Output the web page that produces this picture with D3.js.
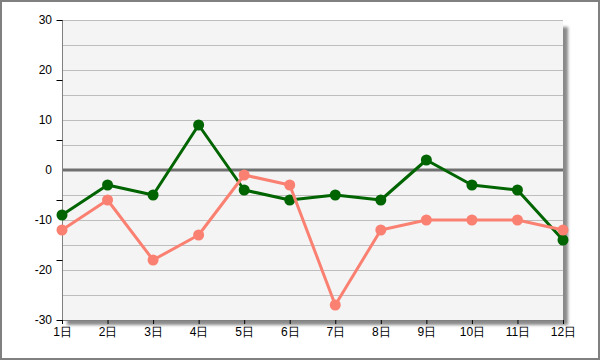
<!DOCTYPE html>
<html><head><meta charset="utf-8">
<script src="https://cdn.jsdelivr.net/npm/d3@7"></script>
<style>
html,body{margin:0;padding:0;background:#fff;}
svg{display:block;}
text{font-family:"Liberation Sans",Arial,sans-serif;font-size:12px;fill:#000;}
</style></head>
<body>
<script>
const categories = ["1日","2日","3日","4日","5日","6日","7日","8日","9日","10日","11日","12日"];
const seriesGreen = [-9,-3,-5,9,-4,-6,-5,-6,2,-3,-4,-14];
const seriesSalmon = [-12,-6,-18,-13,-1,-3,-27,-12,-10,-10,-10,-12];
const yLabels = [30,20,10,0,-10,-20,-30];
const yTickMarks = [30,18,6,-6,-18,-30];
const yGrid = [30,25,20,15,10,5,-5,-10,-15,-20,-25,-30];

const W=600,H=360;
const L=62,R=563,T=20,B=320;
const svg=d3.select("body").append("svg").attr("width",W).attr("height",H);
const defs=svg.append("defs");
const f=defs.append("filter").attr("id","sh").attr("x","-10%").attr("y","-10%").attr("width","120%").attr("height","120%");
f.append("feGaussianBlur").attr("stdDeviation",1.5);

svg.append("rect").attr("x",1).attr("y",1).attr("width",W-2).attr("height",H-2)
  .attr("fill","#fff").attr("stroke","#808080").attr("stroke-width",2);

const x=d3.scalePoint().domain(categories).range([L,R]);
const y=d3.scaleLinear().domain([-30,30]).range([B,T]);

// shadow
svg.append("rect").attr("x",L+5).attr("y",T+7).attr("width",R-L).attr("height",B-T-2)
  .attr("fill","#8a8a8a").attr("filter","url(#sh)");
svg.append("rect").attr("x",L).attr("y",T).attr("width",R-L).attr("height",B-T).attr("fill","#f4f4f4");

// grid
svg.append("g").selectAll("line").data(yGrid).join("line")
  .attr("x1",L).attr("x2",R).attr("y1",d=>y(d)).attr("y2",d=>y(d))
  .attr("stroke","#bdbdbd").attr("stroke-width",1).attr("shape-rendering","crispEdges");
svg.append("line").attr("x1",L).attr("x2",R).attr("y1",y(0)).attr("y2",y(0))
  .attr("stroke","#707070").attr("stroke-width",3);

// y axis
svg.append("line").attr("x1",L+0.5).attr("x2",L+0.5).attr("y1",T).attr("y2",B+4).attr("stroke","#808080");
const yAxis=d3.axisLeft(y).tickValues(yTickMarks).tickSize(6).tickFormat("");
const gy=svg.append("g").attr("transform",`translate(${L+0.5},0)`).call(yAxis);
gy.select(".domain").remove();
gy.selectAll(".tick line").attr("stroke","#000");
svg.append("g").selectAll("text").data(yLabels).join("text")
  .attr("x",52).attr("y",d=>y(d)).attr("dy","0.35em").attr("text-anchor","end").text(d=>d);

// x axis
const xAxis=d3.axisBottom(x).tickSize(4).tickPadding(3);
const gx=svg.append("g").attr("transform",`translate(0,${B})`).call(xAxis);
gx.select(".domain").attr("stroke","#808080").attr("d",`M${L},0.5H${R}`);
gx.selectAll(".tick line").attr("stroke","#000");
gx.selectAll(".tick text").attr("font-size",12).attr("font-family","'Liberation Sans',Arial,'Noto Sans CJK JP',sans-serif");

// series
const line=d3.line().x((d,i)=>x(categories[i])).y(d=>y(d));
function drawSeries(vals,color){
  const g=svg.append("g");
  g.append("path").datum(vals).attr("d",line).attr("fill","none").attr("stroke",color).attr("stroke-width",3).attr("stroke-linejoin","round");
  g.selectAll("circle").data(vals).join("circle")
    .attr("cx",(d,i)=>x(categories[i])).attr("cy",d=>y(d)).attr("r",5.5).attr("fill",color);
}
drawSeries(seriesGreen,"#006400");
drawSeries(seriesSalmon,"#FA8072");
</script>
</body></html>
